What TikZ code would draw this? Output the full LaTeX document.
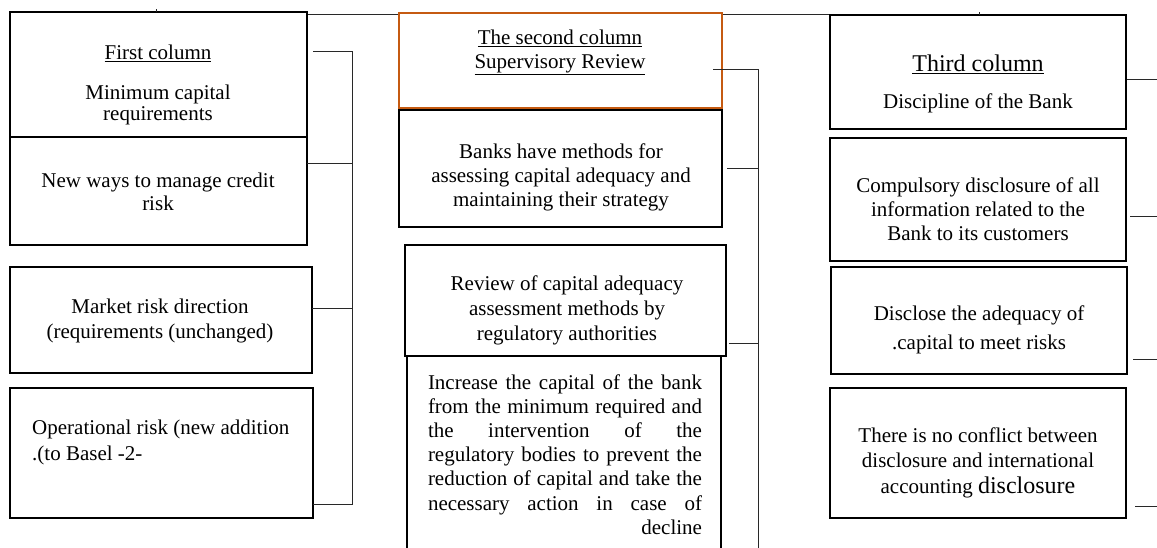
\documentclass[tikz,border=0pt]{standalone}
\usepackage{fontspec}
\setmainfont{Liberation Serif}
\usetikzlibrary{calc}
\definecolor{orangebox}{RGB}{197,90,17}
\definecolor{connclr}{RGB}{40,40,40}
\begin{document}
\begin{tikzpicture}[x=1pt,y=-1pt,
  bx/.style={draw=black,line width=2.4pt,fill=white,inner sep=0pt,outer sep=0pt},
  obx/.style={draw=orangebox,line width=2pt,fill=white,inner sep=0pt,outer sep=0pt},
  conn/.style={draw=connclr,line width=1pt},
  txt/.style={inner sep=0pt,align=center,font=\fontsize{21}{24}\selectfont},
]
\useasboundingbox (0,0) rectangle (1157,548);
\clip (0,0) rectangle (1157,548);
\fill[white] (0,0) rectangle (1157,548);

% top line (drawn first so the orange box hides part of it)
\coordinate (tl) at (307,15);
\coordinate (tr) at (830,15);
\draw[conn] (tl) -- (tr);

% column 1 boxes
\node[bx,minimum width=297pt,minimum height=125pt] (A1) at (158.5,74.5) {};
\node[bx,minimum width=297pt,minimum height=108pt] (A2) at (158.5,191) {};
\node[bx,minimum width=302pt,minimum height=106pt] (A3) at (161,320) {};
\node[bx,minimum width=303pt,minimum height=130pt] (A4) at (161.5,453) {};

% column 2 boxes
\node[obx,minimum width=323pt,minimum height=95pt] (B1) at (560.5,60.5) {};
\node[bx,minimum width=323pt,minimum height=117pt] (B2) at (560.5,168.5) {};
\node[bx,minimum width=314pt,minimum height=208pt] (B4) at (564,460) {};
\node[bx,minimum width=321pt,minimum height=111pt] (B3) at (565.5,300.5) {};

% column 3 boxes
\node[bx,minimum width=296pt,minimum height=114pt] (C1) at (978,72) {};
\node[bx,minimum width=296pt,minimum height=123pt] (C2) at (978,199.5) {};
\node[bx,minimum width=296pt,minimum height=107pt] (C3) at (979,320.5) {};
\node[bx,minimum width=296pt,minimum height=130pt] (C4) at (978,453) {};

% small ticks at top
\draw[conn] ([xshift=-2.5pt]A1.north) -- ++(0,-3);
\draw[conn] ([xshift=1pt]C1.north) -- ++(0,-3);

% column 1 bracket
\coordinate (k1) at (352,52);
\coordinate (k2) at (352,164);
\coordinate (k3) at (352,308);
\coordinate (k4) at (352,504);
\draw[conn] (k1 -| A4.east) -- (k1) -- (k4) -- (k4 -| A4.east);
\draw[conn] (k2 -| A2.east) -- (k2);
\draw[conn] (k3 -| A3.east) -- (k3);

% column 2 bracket
\coordinate (m1) at (758,70);
\coordinate (m2) at (758,169);
\coordinate (m3) at (758,343);
\coordinate (m4) at (758,560);
\draw[conn] ([xshift=-9pt]m1 -| B1.east) -- (m1) -- (m4);
\draw[conn] ([xshift=5pt]m2 -| B2.east) -- (m2);
\draw[conn] ([xshift=3pt]m3 -| B3.east) -- (m3);

% column 3 stubs
\coordinate (r1) at (1157,80);
\coordinate (r2) at (1157,217);
\coordinate (r3) at (1157,359);
\coordinate (r4) at (1157,506);
\draw[conn] ([xshift=1pt]r1 -| C1.east) -- (r1);
\draw[conn] ([xshift=4pt]r2 -| C2.east) -- (r2);
\draw[conn] ([xshift=6pt]r3 -| C3.east) -- (r3);
\draw[conn] ([xshift=9pt]r4 -| C4.east) -- (r4);

% texts column 1
\node[txt] (tA1a) at (158,53) {\underline{First column}};
\node[txt,font=\fontsize{21}{21}\selectfont] (tA1b) at (158,104.5) {Minimum capital\\requirements};
\node[txt,font=\fontsize{21}{23}\selectfont] (tA2) at (158,191.5) {New ways to manage credit\\risk};
\node[txt,font=\fontsize{21}{25}\selectfont] (tA3) at (160,320.5) {Market risk direction\\(requirements (unchanged)};
\node[txt,align=left,anchor=west,font=\fontsize{21}{26}\selectfont] (tA4) at (32,442) {Operational risk (new addition\\.(to Basel -2-};

% texts column 2
\node[txt] (tB1) at (560,52.5) {\underline{The second column}\\\underline{Supervisory Review}};
\node[txt] (tB2) at (561,177) {Banks have methods for\\assessing capital adequacy and\\maintaining their strategy};
\node[txt,font=\fontsize{21}{25}\selectfont] (tB3) at (567,310) {Review of capital adequacy\\assessment methods by\\regulatory authorities};
\node[txt,align=justify,text width=274pt,font=\fontsize{21}{24.2}\selectfont] (tB4) at (565,454.5) {Increase the capital of the bank\linebreak from the minimum required and\linebreak the intervention of the\linebreak regulatory bodies to prevent the\linebreak reduction of capital and take the\linebreak necessary action in case of\linebreak \hspace*{\fill}decline};

% texts column 3
\node[txt,font=\fontsize{24}{26}\selectfont] (tC1a) at (978,64) {\underline{Third column}};
\node[txt] (tC1b) at (978,103) {Discipline of the Bank};
\node[txt] (tC2) at (978,209) {Compulsory disclosure of all\\information related to the\\Bank to its customers};
\node[txt,font=\fontsize{21}{29}\selectfont] (tC3) at (979,329.5) {Disclose the adequacy of\\.capital to meet risks};
\node[txt,font=\fontsize{21}{25.5}\selectfont] (tC4) at (978,462.5) {There is no conflict between\\disclosure and international\\accounting {\fontsize{24}{25.5}\selectfont disclosure}};
\end{tikzpicture}
\end{document}
